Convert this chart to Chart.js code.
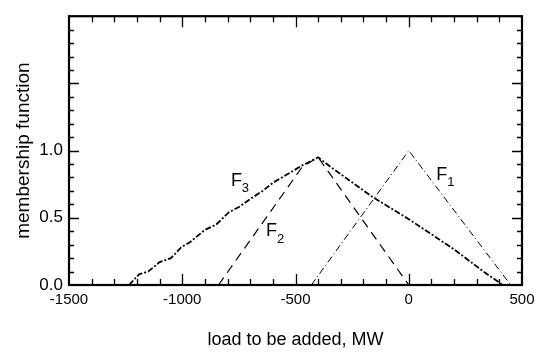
<!DOCTYPE html>
<html>
<head>
<meta charset="utf-8">
<script src="https://cdn.jsdelivr.net/npm/chart.js@4/dist/chart.umd.min.js"></script>
<style>
  html, body { margin: 0; padding: 0; background: #fff; }
  #wrap { width: 541px; height: 352px; }
</style>
</head>
<body>
<div id="wrap"><canvas id="membership"></canvas></div>
<script>
// membership functions (load in MW, membership 0..1)
const f1Load = [-430, 0, 450];
const f1Mu = [0, 1.0, 0];

const f2Load = [-840, -470, -400, 0];
const f2Mu = [0, 0.88, 0.95, 0];

const f3Load = [-1235, -1190, -1150, -1100, -1050, -1005, -965, -900, -850, -795,
                -750, -700, -645, -600, -540, -470, -400, -350, -160, 0, 200, 330, 415];
const f3Mu = [0, 0.08, 0.10, 0.17, 0.20, 0.28, 0.32, 0.41, 0.45, 0.54,
              0.58, 0.64, 0.70, 0.76, 0.82, 0.89, 0.95, 0.885, 0.655, 0.49, 0.265, 0.10, 0];

const xTicks = [-1500, -1000, -500, 0, 500];
const yTickLabels = [0, 0.5, 1.0];

// curve names and where they sit (data coords)
const curveNames = [
    { main: "F", sub: "3", x: -761, y: 0.775 },
    { main: "F", sub: "2", x: -606, y: 0.40 },
    { main: "F", sub: "1", x: 146, y: 0.82 }
];

function toPoints(xs, ys) {
    return xs.map(function (v, i) { return { x: v, y: ys[i] }; });
}

var FONT = "'Liberation Sans', Arial, sans-serif";

// box frame, inward tick marks and curve names
var framePlugin = {
    id: "frame",
    afterDraw: function (chart) {
        var ctx = chart.ctx;
        var a = chart.chartArea;
        var xs = chart.scales.x, ys = chart.scales.y;
        ctx.save();
        ctx.strokeStyle = "#000";
        ctx.lineWidth = 1.3;
        ctx.beginPath();
        for (var v = -1400; v < 500; v += 100) {
            var px = Math.round(xs.getPixelForValue(v)) + 0.5;
            var len = (v % 500 === 0) ? 11 : 6;
            ctx.moveTo(px, a.bottom); ctx.lineTo(px, a.bottom - len);
            ctx.moveTo(px, a.top); ctx.lineTo(px, a.top + len);
        }
        for (var k = 1; k < 20; k++) {
            var py = Math.round(ys.getPixelForValue(k / 10)) + 0.5;
            var l2 = (k % 5 === 0) ? 10 : 5;
            ctx.moveTo(a.left, py); ctx.lineTo(a.left + l2, py);
            ctx.moveTo(a.right, py); ctx.lineTo(a.right - l2, py);
        }
        ctx.stroke();
        ctx.lineWidth = 2.2;
        ctx.strokeRect(a.left, a.top, a.right - a.left, a.bottom - a.top);

        ctx.fillStyle = "#000";
        ctx.textAlign = "center";
        ctx.textBaseline = "middle";
        curveNames.forEach(function (n) {
            var cx = xs.getPixelForValue(n.x);
            var cy = ys.getPixelForValue(n.y);
            ctx.font = "18px " + FONT;
            ctx.fillText(n.main, cx, cy);
            ctx.font = "13px " + FONT;
            ctx.fillText(n.sub, cx + 9, cy + 8);
        });
        ctx.restore();
    }
};

new Chart(document.getElementById("membership").getContext("2d"), {
    type: "line",
    data: {
        datasets: [
            {
                label: "F1",
                data: toPoints(f1Load, f1Mu),
                borderColor: "#000",
                borderWidth: 1,
                borderDash: [7, 3, 1, 3],
                pointRadius: 0,
                tension: 0
            },
            {
                label: "F2",
                data: toPoints(f2Load, f2Mu),
                borderColor: "#000",
                borderWidth: 1.2,
                borderDash: [9, 6],
                pointRadius: 0,
                tension: 0
            },
            {
                label: "F3",
                data: toPoints(f3Load, f3Mu),
                borderColor: "#000",
                borderWidth: 1.8,
                borderDash: [6, 2, 2, 2],
                pointRadius: 0,
                tension: 0
            }
        ]
    },
    options: {
        responsive: true,
        maintainAspectRatio: false,
        animation: false,
        layout: { padding: { top: 10, right: 19, left: 0, bottom: 0 } },
        plugins: { legend: { display: false }, tooltip: { enabled: false } },
        scales: {
            x: {
                type: "linear",
                min: -1500,
                max: 500,
                afterBuildTicks: function (s) {
                    s.ticks = xTicks.map(function (v) { return { value: v }; });
                },
                afterFit: function (s) { s.height = 67; },
                grid: { display: false, drawTicks: false },
                border: { display: false },
                ticks: {
                    color: "#000",
                    padding: 6,
                    maxRotation: 0,
                    font: { family: FONT, size: 15 },
                    callback: function (v) { return String(v); }
                },
                title: {
                    display: true,
                    text: "load to be added, MW",
                    color: "#000",
                    font: { family: FONT, size: 18 },
                    padding: { top: 0, bottom: 1 }
                }
            },
            y: {
                min: 0,
                max: 2,
                afterBuildTicks: function (s) {
                    s.ticks = yTickLabels.map(function (v) { return { value: v }; });
                },
                afterFit: function (s) { s.width = 69; },
                grid: { display: false, drawTicks: false },
                border: { display: false },
                ticks: {
                    color: "#000",
                    padding: 6,
                    font: { family: FONT, size: 17 },
                    callback: function (v) { return v.toFixed(1); }
                },
                title: {
                    display: true,
                    text: "membership function",
                    color: "#000",
                    font: { family: FONT, size: 19 },
                    padding: { top: 12, bottom: 0 }
                }
            }
        }
    },
    plugins: [framePlugin]
});
</script>
</body>
</html>
